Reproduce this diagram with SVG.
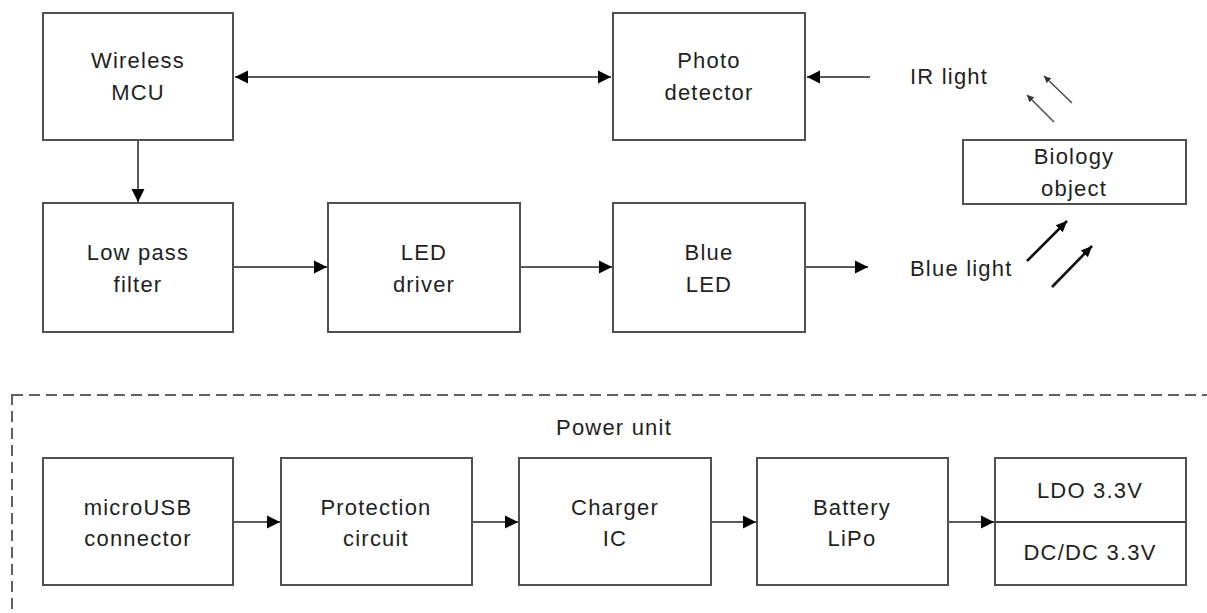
<svg xmlns="http://www.w3.org/2000/svg" width="1207" height="613" viewBox="0 0 1207 613">
<style>
.box{fill:#fff;stroke:#505050;stroke-width:2}
.t{font-family:"Liberation Sans",Arial,sans-serif;font-size:22px;letter-spacing:1.2px;fill:#1f1f1f;text-anchor:middle}
.tl{font-family:"Liberation Sans",Arial,sans-serif;font-size:22px;letter-spacing:1.2px;fill:#1f1f1f}
.c{stroke:#5a5a5a;stroke-width:2;fill:none}
.ir{stroke:#404040;stroke-width:1.3;fill:none}
.bl{stroke:#111;stroke-width:2.6;fill:none}
</style>
<defs>
<marker id="ah" markerUnits="userSpaceOnUse" markerWidth="14" markerHeight="14" refX="13" refY="7" orient="auto-start-reverse" viewBox="0 0 14 14">
<path d="M0,0.5 L13,7 L0,13.5 z" fill="#000"/>
</marker>
<marker id="ahs" markerUnits="userSpaceOnUse" markerWidth="8" markerHeight="8" refX="7" refY="3.5" orient="auto" viewBox="0 0 8 7">
<path d="M0,0 L7,3.5 L0,7 z" fill="#333"/>
</marker>
<marker id="ahb" markerUnits="userSpaceOnUse" markerWidth="12" markerHeight="12" refX="11" refY="5" orient="auto" viewBox="0 0 12 10">
<path d="M0,0 L11,5 L0,10 z" fill="#000"/>
</marker>
</defs>
<rect id="power-unit" x="12" y="395" width="1210" height="240" fill="none" stroke="#606060" stroke-width="2" stroke-dasharray="11 6"/>
<text class="t" x="614" y="435">Power unit</text>
<g id="wireless-mcu"><rect class="box" x="43" y="13" width="190" height="127"/><text class="t" x="138" y="68">Wireless</text><text class="t" x="138" y="100">MCU</text></g>
<g id="photo-detector"><rect class="box" x="613" y="13" width="192" height="127"/><text class="t" x="709" y="68">Photo</text><text class="t" x="709" y="100">detector</text></g>
<g id="low-pass-filter"><rect class="box" x="43" y="203" width="190" height="129"/><text class="t" x="138" y="260">Low pass</text><text class="t" x="138" y="292">filter</text></g>
<g id="led-driver"><rect class="box" x="328" y="203" width="192" height="129"/><text class="t" x="424" y="260">LED</text><text class="t" x="424" y="292">driver</text></g>
<g id="blue-led"><rect class="box" x="613" y="203" width="192" height="129"/><text class="t" x="709" y="260">Blue</text><text class="t" x="709" y="292">LED</text></g>
<g id="biology-object"><rect class="box" x="963" y="140" width="223" height="64"/><text class="t" x="1074" y="164">Biology</text><text class="t" x="1074" y="196">object</text></g>
<g id="ir-light"><text class="tl" x="910" y="84">IR light</text></g>
<g id="blue-light"><text class="tl" x="910" y="276">Blue light</text></g>
<g id="microusb"><rect class="box" x="43" y="458" width="190" height="127"/><text class="t" x="138" y="515">microUSB</text><text class="t" x="138" y="546">connector</text></g>
<g id="protection"><rect class="box" x="281" y="458" width="191" height="127"/><text class="t" x="376" y="515">Protection</text><text class="t" x="376" y="546">circuit</text></g>
<g id="charger"><rect class="box" x="519" y="458" width="192" height="127"/><text class="t" x="615" y="515">Charger</text><text class="t" x="615" y="546">IC</text></g>
<g id="battery"><rect class="box" x="757" y="458" width="191" height="127"/><text class="t" x="852" y="515">Battery</text><text class="t" x="852" y="546">LiPo</text></g>
<g id="regulators"><rect class="box" x="995" y="458" width="191" height="127"/><line x1="995" y1="522" x2="1186" y2="522" stroke="#404040" stroke-width="2"/><text class="t" x="1090" y="498">LDO 3.3V</text><text class="t" x="1090" y="560">DC/DC 3.3V</text></g>
<g id="connectors">
<line class="c" x1="235" y1="77" x2="611" y2="77" marker-start="url(#ah)" marker-end="url(#ah)"/>
<line class="c" x1="870" y1="77" x2="807" y2="77" marker-end="url(#ah)"/>
<line class="c" x1="138" y1="140" x2="138" y2="202" marker-end="url(#ah)"/>
<line class="c" x1="233" y1="267" x2="327" y2="267" marker-end="url(#ah)"/>
<line class="c" x1="520" y1="267" x2="612" y2="267" marker-end="url(#ah)"/>
<line class="c" x1="805" y1="267" x2="868" y2="267" marker-end="url(#ah)"/>
<line class="c" x1="233" y1="522" x2="280" y2="522" marker-end="url(#ah)"/>
<line class="c" x1="472" y1="522" x2="518" y2="522" marker-end="url(#ah)"/>
<line class="c" x1="711" y1="522" x2="756" y2="522" marker-end="url(#ah)"/>
<line class="c" x1="948" y1="522" x2="994" y2="522" marker-end="url(#ah)"/>
<line class="ir" x1="1054" y1="122" x2="1027" y2="95" marker-end="url(#ahs)"/>
<line class="ir" x1="1072" y1="103" x2="1044" y2="76" marker-end="url(#ahs)"/>
<line class="bl" x1="1027" y1="261" x2="1067" y2="221" marker-end="url(#ahb)"/>
<line class="bl" x1="1052" y1="287" x2="1092" y2="246" marker-end="url(#ahb)"/>
</g>
</svg>
